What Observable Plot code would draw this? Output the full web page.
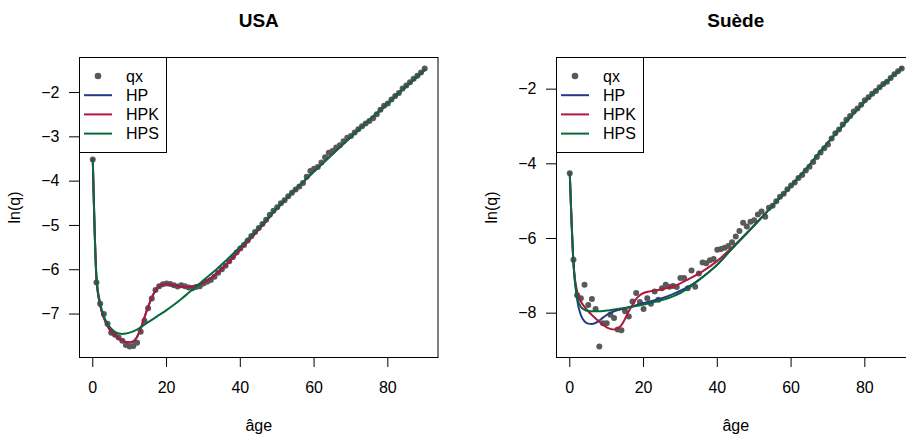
<!DOCTYPE html>
<html><head><meta charset="utf-8">
<script src="https://cdn.jsdelivr.net/npm/d3@7"></script>
<script src="https://cdn.jsdelivr.net/npm/@observablehq/plot@0.6"></script>
<style>
body{margin:0;background:#fff;}
#wrap{width:906px;height:434px;overflow:hidden;position:relative;display:flex;}
.panel{position:relative;width:477px;height:434px;flex:none;}
.legend{position:absolute;box-sizing:border-box;border:1px solid #000;background:#fff;}
</style></head><body><div id="wrap"></div>
<script>
const ages = d3.range(0, 91);
const xTicks = [0, 20, 40, 60, 80];
const seriesNames = ["HP", "HPK", "HPS"];
const seriesColors = ["#24388c", "#b3163f", "#08693a"];
const pointColor = "#595959";

// USA
const usaQx = [-3.51,-6.29,-6.77,-7.00,-7.22,-7.42,-7.47,-7.53,-7.60,-7.70,
 -7.73,-7.72,-7.65,-7.40,-7.15,-6.87,-6.65,-6.46,-6.37,-6.33,
 -6.31,-6.32,-6.35,-6.38,-6.35,-6.37,-6.40,-6.42,-6.39,-6.37,
 -6.31,-6.27,-6.23,-6.16,-6.07,-5.99,-5.91,-5.81,-5.71,-5.61,
 -5.52,-5.44,-5.34,-5.24,-5.15,-5.06,-4.97,-4.87,-4.76,-4.67,
 -4.59,-4.50,-4.43,-4.34,-4.26,-4.19,-4.12,-4.04,-3.90,-3.77,
 -3.72,-3.68,-3.58,-3.46,-3.36,-3.32,-3.24,-3.19,-3.10,-3.02,
 -2.98,-2.90,-2.83,-2.76,-2.70,-2.64,-2.58,-2.49,-2.39,-2.30,
 -2.25,-2.16,-2.08,-2.01,-1.91,-1.84,-1.77,-1.69,-1.62,-1.55,
 -1.46];
const usaKAges = [0,1,2,3,4,5,6,7,8,9,10,11,12,13,14,15,16,17,18,19,20,21,22,23,24,25,26,27,28,30,32,35,38,40,43,46,50,55,60,65,70,75,80,85,90];
const usaHP  = [-3.5,-6.2,-6.8,-7.08,-7.27,-7.4,-7.48,-7.55,-7.6,-7.63,-7.64,-7.62,-7.52,-7.33,-7.08,-6.84,-6.63,-6.47,-6.38,-6.33,-6.32,-6.33,-6.35,-6.37,-6.38,-6.39,-6.39,-6.38,-6.36,-6.29,-6.19,-5.98,-5.73,-5.54,-5.28,-5.0,-4.61,-4.19,-3.78,-3.39,-3.00,-2.62,-2.24,-1.86,-1.49];
const usaHPK = [-3.5,-6.2,-6.8,-7.08,-7.27,-7.4,-7.48,-7.55,-7.6,-7.63,-7.64,-7.62,-7.52,-7.33,-7.08,-6.84,-6.63,-6.47,-6.38,-6.33,-6.32,-6.33,-6.35,-6.37,-6.38,-6.39,-6.39,-6.38,-6.36,-6.29,-6.19,-5.98,-5.73,-5.54,-5.28,-5.0,-4.61,-4.19,-3.78,-3.39,-3.00,-2.62,-2.24,-1.86,-1.49];
const usaSAges = [0,1,2,3,4,5,6,7,8,9,10,12,14,16,18,20,22,24,26,28,30,33,36,40,45,50,55,60,65,70,75,80,85,90];
const usaHPS = [-3.5,-6.15,-6.75,-7.05,-7.22,-7.33,-7.40,-7.44,-7.45,-7.44,-7.42,-7.35,-7.24,-7.13,-7.02,-6.91,-6.79,-6.66,-6.52,-6.38,-6.24,-6.03,-5.80,-5.48,-5.06,-4.60,-4.18,-3.78,-3.39,-3.00,-2.62,-2.24,-1.86,-1.49];
const usaYTicks = [-7,-6,-5,-4,-3,-2];

// Suède
const sweQx = [-4.25,-6.57,-7.52,-7.60,-7.24,-7.78,-7.62,-7.89,-8.89,-8.27,
 -8.27,-8.04,-8.13,-8.44,-8.46,-7.95,-8.09,-7.69,-7.46,-7.70,
 -7.89,-7.60,-7.75,-7.42,-7.64,-7.33,-7.24,-7.29,-7.27,-7.30,
 -7.06,-7.06,-7.33,-6.86,-7.29,-6.94,-6.64,-6.66,-6.58,-6.55,
 -6.30,-6.28,-6.25,-6.20,-6.10,-5.95,-5.80,-5.58,-5.68,-5.55,
 -5.51,-5.36,-5.28,-5.42,-5.18,-5.12,-5.00,-4.88,-4.80,-4.68,
 -4.58,-4.50,-4.38,-4.30,-4.18,-4.08,-3.95,-3.82,-3.70,-3.58,
 -3.48,-3.32,-3.18,-3.08,-2.95,-2.82,-2.72,-2.60,-2.52,-2.42,
 -2.30,-2.22,-2.12,-2.05,-1.95,-1.86,-1.80,-1.70,-1.60,-1.52,
 -1.45];
const sweHPAges = [0,1,2,3,4,5,6,7,8,9,10,12,15,18,20,22,25,28,30,33,36,40,44,48,52,56,60,64,68,72,76,80,84,87,90];
const sweHP = [-4.25,-6.65,-7.64,-8.05,-8.22,-8.28,-8.29,-8.26,-8.2,-8.12,-8.05,-7.95,-7.87,-7.79,-7.73,-7.68,-7.6,-7.49,-7.4,-7.24,-7.03,-6.7,-6.27,-5.86,-5.44,-5.01,-4.59,-4.15,-3.67,-3.20,-2.76,-2.33,-1.96,-1.70,-1.43];
const sweHPKAges = [0,1,2,3,4,5,6,7,8,9,10,11,12,13,14,15,16,17,18,19,20,22,25,28,30,33,36,40,44,48,52,56,60,64,68,72,76,80,84,87,90];
const sweHPK = [-4.25,-6.65,-7.42,-7.68,-7.83,-7.95,-8.05,-8.14,-8.23,-8.31,-8.38,-8.42,-8.44,-8.41,-8.32,-8.15,-7.95,-7.78,-7.62,-7.52,-7.46,-7.41,-7.36,-7.28,-7.2,-7.05,-6.88,-6.6,-6.24,-5.85,-5.44,-5.01,-4.59,-4.15,-3.67,-3.20,-2.76,-2.33,-1.96,-1.70,-1.43];
const sweHPSAges = [0,1,2,3,4,5,6,8,10,12,15,18,20,22,25,28,30,33,36,40,44,48,52,56,60,64,68,72,76,80,84,87,90];
const sweHPS = [-4.25,-6.65,-7.55,-7.83,-7.91,-7.94,-7.95,-7.95,-7.93,-7.9,-7.86,-7.81,-7.77,-7.72,-7.65,-7.55,-7.46,-7.27,-7.04,-6.7,-6.27,-5.86,-5.44,-5.01,-4.59,-4.15,-3.67,-3.20,-2.76,-2.33,-1.96,-1.70,-1.43];
const sweYTicks = [-8,-6,-4,-2];

const font = '"Liberation Sans", Arial, Helvetica, sans-serif';
const intFmt = d3.format("d");

function panel(title, qx, curves, yTicks) {
  const yExt = d3.extent(qx), yPad = (yExt[1] - yExt[0]) * 0.04;
  const xExt = d3.extent(ages), xPad = (xExt[1] - xExt[0]) * 0.04;
  const pts = ages.map((a, i) => ({age: a, v: qx[i]}));
  const div = document.createElement("div");
  div.className = "panel";
  const mL = 79, mT = 57;
  const plot = Plot.plot({
    width: 477, height: 434,
    marginTop: mT, marginRight: 39.5, marginBottom: 77, marginLeft: mL,
    style: {fontFamily: font, fontSize: "16px", background: "#fff", color: "#000", overflow: "visible"},
    x: {domain: [xExt[0] - xPad, xExt[1] + xPad]},
    y: {domain: [yExt[0] - yPad, yExt[1] + yPad]},
    marks: [
      Plot.axisX({ticks: xTicks, tickSize: 10, tickPadding: 14, label: null, fontSize: 16, tickFormat: intFmt}),
      Plot.axisY({ticks: yTicks, tickSize: 10, tickPadding: 10, label: null, fontSize: 16, tickFormat: intFmt}),
      Plot.dot(pts, {x: "age", y: "v", r: 3, fill: pointColor}),
      ...curves.map((c, k) => Plot.line(c.ages.map((a, i) => ({age: a, v: c.values[i]})),
        {x: "age", y: "v", stroke: seriesColors[k], strokeWidth: 2, curve: "monotone-x"})),
      Plot.frame({stroke: "#000"}),
      Plot.text([title], {text: d => d, frameAnchor: "top", lineAnchor: "middle", dy: -37, fontWeight: "bold", fontSize: 19}),
      Plot.text(["âge"], {text: d => d, frameAnchor: "bottom", lineAnchor: "middle", dy: 68, fontSize: 16}),
      Plot.text(["ln(q)"], {text: d => d, frameAnchor: "left", textAnchor: "middle", lineAnchor: "middle", dx: -65, rotate: -90, fontSize: 16})
    ]
  });
  div.appendChild(plot);
  // legend
  const lg = document.createElement("div");
  lg.className = "legend";
  lg.style.left = mL + "px"; lg.style.top = mT + "px";
  lg.style.width = "88px"; lg.style.height = "96px";
  div.appendChild(lg);
  const svg = d3.select(lg).append("svg").attr("width", 86).attr("height", 94)
    .style("position", "absolute").style("left", "0").style("top", "0");
  const rowY = i => 18 + i * 19.2;
  svg.append("circle").attr("cx", 18).attr("cy", rowY(0)).attr("r", 3.3).attr("fill", pointColor);
  seriesNames.forEach((n, i) => {
    svg.append("line").attr("x1", 4).attr("x2", 32).attr("y1", rowY(i + 1)).attr("y2", rowY(i + 1))
      .attr("stroke", seriesColors[i]).attr("stroke-width", 2);
  });
  ["qx", ...seriesNames].forEach((t, i) => {
    svg.append("text").attr("x", 46).attr("y", rowY(i)).attr("dy", "0.36em")
      .attr("font-family", font).attr("font-size", 16).text(t);
  });
  return div;
}

const wrap = document.getElementById("wrap");
wrap.appendChild(panel("USA", usaQx, [
  {ages: usaKAges, values: usaHP},
  {ages: usaKAges, values: usaHPK},
  {ages: usaSAges, values: usaHPS}
], usaYTicks));
wrap.appendChild(panel("Suède", sweQx, [
  {ages: sweHPAges, values: sweHP},
  {ages: sweHPKAges, values: sweHPK},
  {ages: sweHPSAges, values: sweHPS}
], sweYTicks));
</script></body></html>
